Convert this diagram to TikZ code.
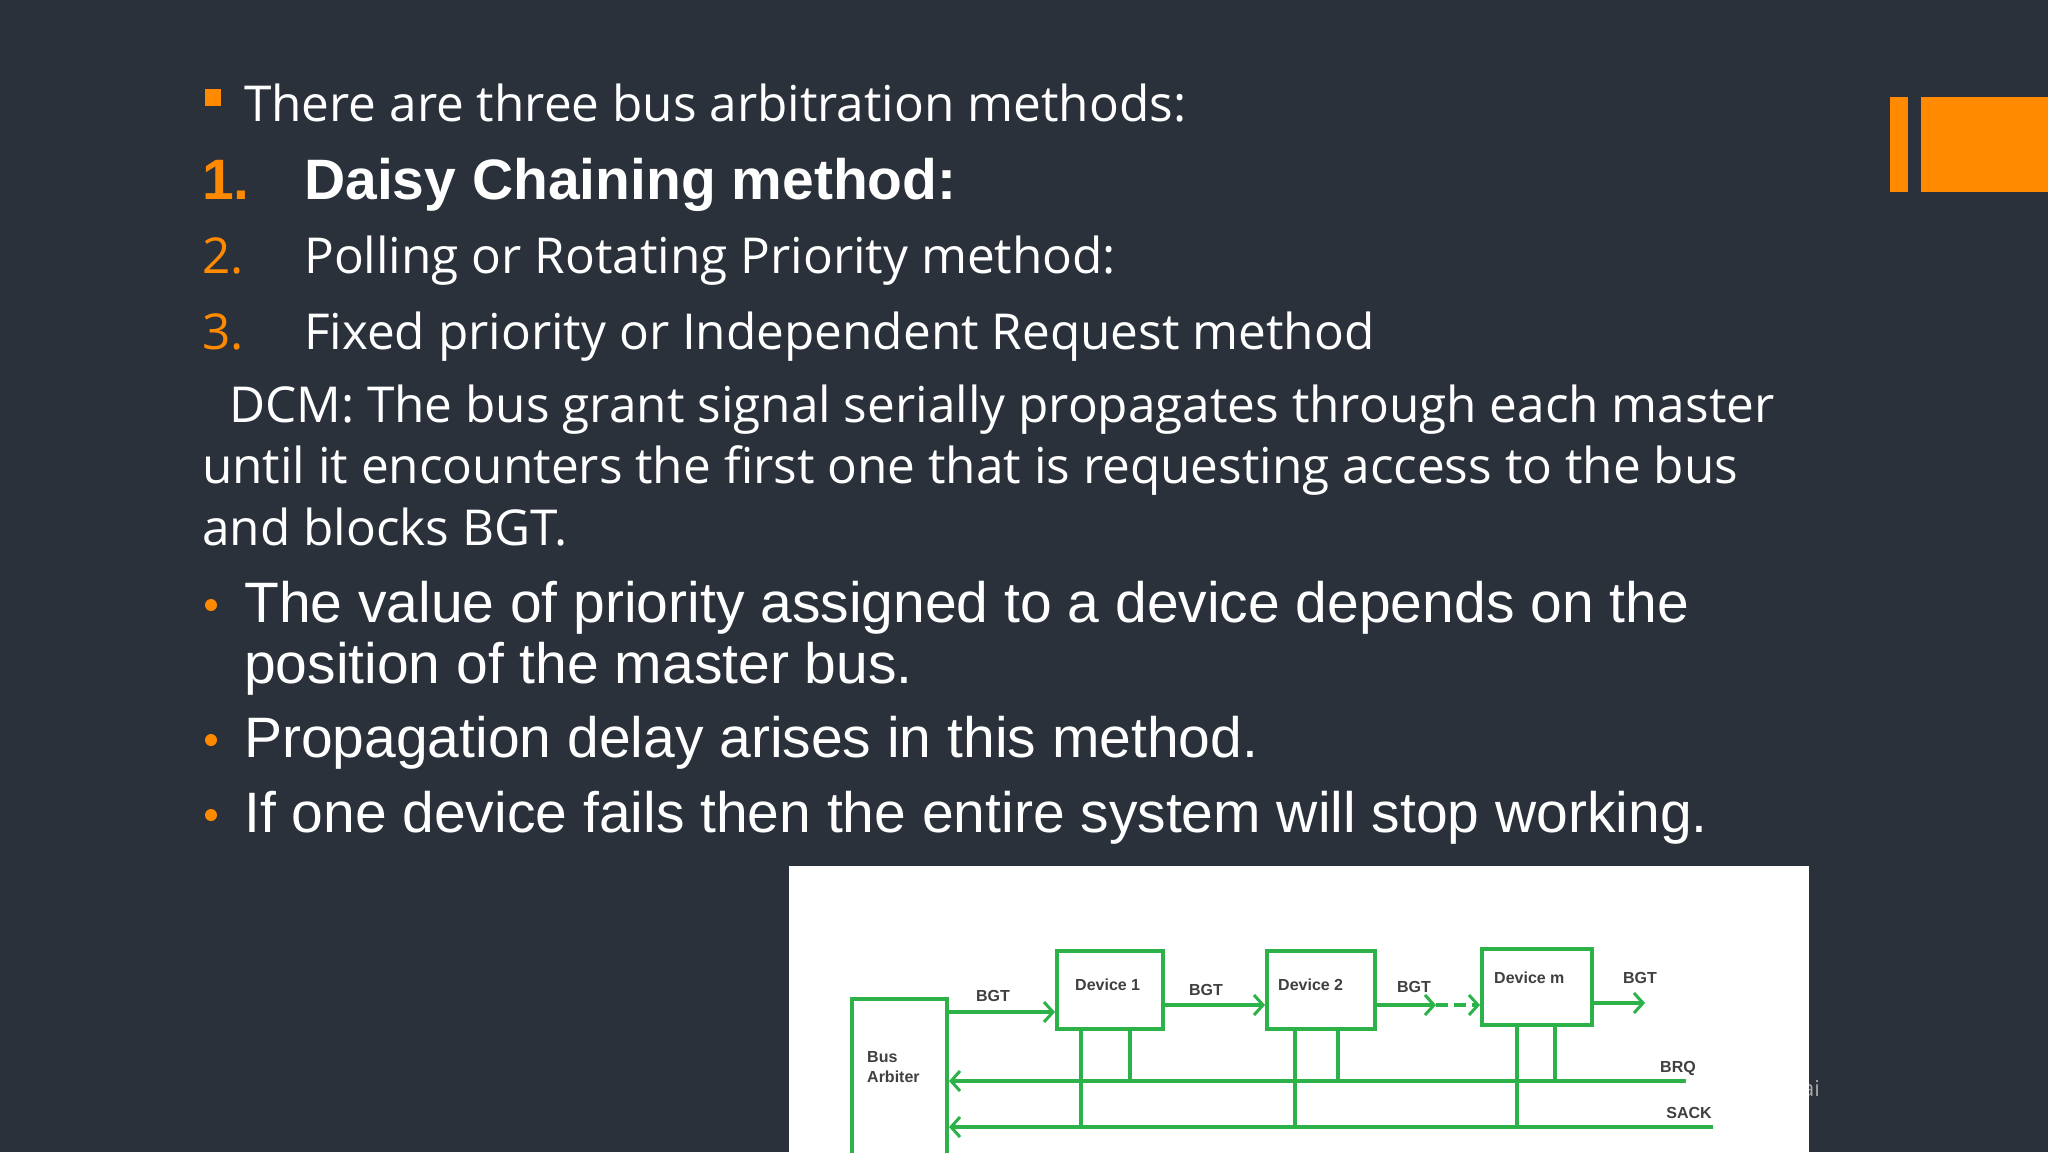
\documentclass[tikz,border=0pt]{standalone}
\usepackage{fontspec}
\setmainfont{Open Sans}
\newfontfamily\arial{Liberation Sans}
\usetikzlibrary{arrows.meta}
\definecolor{bg}{HTML}{2A313B}
\definecolor{org}{HTML}{FF8A00}
\definecolor{grn}{RGB}{44,178,72}
\begin{document}
\begin{tikzpicture}[x=1pt,y=-1pt,
  txt/.style={anchor=base west,inner sep=0,text=white},
  cal/.style={txt,font=\fontsize{49.5}{61}\selectfont},
  ari/.style={txt,font=\arial\fontsize{57}{61}\selectfont},
  num/.style={anchor=base west,inner sep=0,text=org,font=\fontsize{49.5}{61}\selectfont},
  gl/.style={draw=grn,line width=4pt},
  gbox/.style={gl,fill=white,anchor=north west,inner sep=0},
  lab/.style={inner sep=0,font=\arial\bfseries\fontsize{16}{18}\selectfont,text=black!75},
  arr/.style={gl,-{Straight Barb[length=9pt,width=20pt,line width=3pt]}}]
\useasboundingbox (0,0) rectangle (2048,1152);
\fill[bg] (0,0) rectangle (2048,1152);
\fill[org] (1890,97) rectangle (1908,192);
\fill[org] (1921,97) rectangle (2048,192);
\node[text=gray!70,font=\fontsize{22}{28}\selectfont,anchor=base west,inner sep=0] (ai) at (1802,1096) {ai};
% bullets
\fill[org] (205,89) rectangle (221,106);
\node[cal] (t0) at (244,121) {There are three bus arbitration methods:};
\node[num,font=\arial\bfseries\fontsize{57}{61}\selectfont] (n1) at (202,199) {1.};
\node[txt,font=\arial\bfseries\fontsize{57}{61}\selectfont] (t1) at (304,199) {Daisy Chaining method:};
\node[num] (n2) at (202,273) {2.};
\node[cal] (t2) at (304,273) {Polling or Rotating Priority method:};
\node[num] (n3) at (202,349) {3.};
\node[cal] (t3) at (304,349) {Fixed priority or Independent Request method};
\node[cal] (d1) at (229,422) {DCM: The bus grant signal serially propagates through each master};
\node[cal] (d2) at (202,483) {until it encounters the first one that is requesting access to the bus};
\node[cal] (d3) at (202,545) {and blocks BGT.};
\foreach \y/\n in {622/b1,757/b3,832/b4}{
  \fill[org] (211,\y-17) circle (6);}
\node[ari] (b1) at (244,622) {The value of priority assigned to a device depends on the};
\node[ari] (b2) at (244,683) {position of the master bus.};
\node[ari] (b3) at (244,757) {Propagation delay arises in this method.};
\node[ari] (b4) at (244,832) {If one device fails then the entire system will stop working.};
% image
\fill[white] (789,866) rectangle (1809,1152);
\node[gbox,minimum width=95pt,minimum height=160pt] (ba) at (850,997) {};
\node[gbox,minimum width=106pt,minimum height=78pt] (dv1) at (1055,949) {};
\node[gbox,minimum width=108pt,minimum height=78pt] (dv2) at (1265,949) {};
\node[gbox,minimum width=110pt,minimum height=76pt] (dvm) at (1480,947) {};
\node[lab,anchor=west] (l1) at (1075,985) {Device 1};
\node[lab,anchor=west] (l2) at (1278,985) {Device 2};
\node[lab,anchor=west] (lm) at (1494,978) {Device m};
\node[lab,anchor=west,align=left] (lba) at (867,1067) {Bus\\[2pt]Arbiter};
\coordinate (o) at (1645,1003);
\coordinate (brq) at (1686,1081);
\coordinate (sack) at (1713,1127);
\coordinate (dm1) at (1436,1005);
\draw[arr] (ba.east |- 0,1012) -- (dv1.west |- 0,1012);
\draw[arr] (dv1.east |- 0,1005) -- (dv2.west |- 0,1005);
\draw[arr] (dv2.east |- 0,1005) -- (dm1);
\draw[arr,dashed,dash pattern=on 12pt off 6pt] (dm1) -- (dvm.west |- 0,1005);
\draw[arr] (dvm.east |- 0,1003) -- (o);
\draw[arr] (brq) -- (ba.east |- brq);
\draw[arr] (sack) -- (ba.east |- sack);
\foreach \n/\a/\b in {dv1/1081/1130,dv2/1295/1338,dvm/1517/1555}{
  \draw[gl] (\a,0 |- \n.south) -- (\a,1127);
  \draw[gl] (\b,0 |- \n.south) -- (\b,1081);}
\node[lab] (g1) at (993,996) {BGT};
\node[lab] (g2) at (1206,990) {BGT};
\node[lab] (g3) at (1414,987) {BGT};
\node[lab] (g4) at (1640,978) {BGT};
\node[lab] (q) at (1678,1068) {BRQ};
\node[lab] (s) at (1689,1113) {SACK};
\end{tikzpicture}
\end{document}
